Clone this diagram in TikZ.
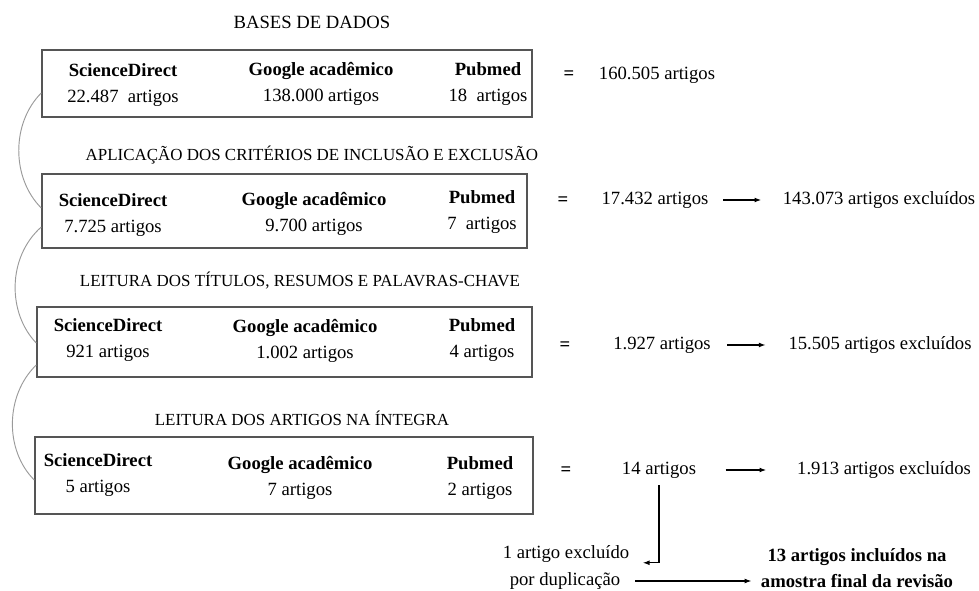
\documentclass[tikz,border=0pt]{standalone}
\usepackage{fontspec}
\setmainfont{Liberation Serif}
\usetikzlibrary{calc,arrows.meta}
\definecolor{boxgray}{HTML}{555555}
\definecolor{curvegray}{HTML}{9A9A9A}
\begin{document}
\begin{tikzpicture}[x=0.75pt,y=-0.75pt,
  body/.style={inner sep=0pt,align=center,font=\fontsize{14}{19.5}\selectfont},
  head/.style={inner sep=0pt,font=\fontsize{12.7}{15}\selectfont},
  boxnode/.style={draw=boxgray,line width=1.1pt,inner sep=0pt},
  curve/.style={draw=curvegray,line width=0.7pt},
  arr/.style={-{Latex[length=5pt,width=3.6pt]},line width=0.8pt}
]
\useasboundingbox (0,0) rectangle (979,591);

% headings
\node[head,font=\fontsize{14}{16}\selectfont] (h1) at (312,22) {BASES DE DADOS};
\node[head] (h2) at (312,155) {APLICAÇÃO DOS CRITÉRIOS DE INCLUSÃO E EXCLUSÃO};
\node[head] (h3) at (300,281) {LEITURA DOS TÍTULOS, RESUMOS E PALAVRAS-CHAVE};
\node[head] (h4) at (302,418) {LEITURA DOS ARTIGOS NA ÍNTEGRA};

% boxes
\node[boxnode,minimum width=367.5pt,minimum height=50.25pt] (b1) at (287,83.5) {};
\node[boxnode,minimum width=363.75pt,minimum height=55.5pt] (b2) at (284.5,211) {};
\node[boxnode,minimum width=371.25pt,minimum height=52.5pt] (b3) at (284.5,342) {};
\node[boxnode,minimum width=373.5pt,minimum height=57.75pt] (b4) at (284,475.5) {};

% box contents
\node[body] (sd1) at (123,85) {\textbf{ScienceDirect}\\22.487~ artigos};
\node[body] (ga1) at (321,84) {\textbf{Google acadêmico}\\138.000 artigos};
\node[body] (pm1) at (488,84) {\textbf{Pubmed}\\18~ artigos};

\node[body] (sd2) at (113,215) {\textbf{ScienceDirect}\\7.725 artigos};
\node[body] (ga2) at (314,213.5) {\textbf{Google acadêmico}\\9.700 artigos};
\node[body] (pm2) at (482,212) {\textbf{Pubmed}\\7~ artigos};

\node[body] (sd3) at (108,340) {\textbf{ScienceDirect}\\921 artigos};
\node[body] (ga3) at (305,340.5) {\textbf{Google acadêmico}\\1.002 artigos};
\node[body] (pm3) at (482,340) {\textbf{Pubmed}\\4 artigos};

\node[body] (sd4) at (98,475.5) {\textbf{ScienceDirect}\\5 artigos};
\node[body] (ga4) at (300,478) {\textbf{Google acadêmico}\\7 artigos};
\node[body] (pm4) at (480,478) {\textbf{Pubmed}\\2 artigos};

% right side
\node[body] (eq1) at (569,75) {\textbf{=}};
\node[body] (t1) at (657,75) {160.505 artigos};

\node[body] (eq2) at (563,201) {\textbf{=}};
\node[body] (t2) at (655,200) {17.432 artigos};
\node[body] (e2) at (879,200) {143.073 artigos excluídos};

\node[body] (eq3) at (565,346) {\textbf{=}};
\node[body] (t3) at (662,345) {1.927 artigos};
\node[body] (e3) at (880,345) {15.505 artigos excluídos};

\node[body] (eq4) at (566,471) {\textbf{=}};
\node[body] (t4) at (659,470) {14 artigos};
\node[body] (e4) at (884,470) {1.913 artigos excluídos};

\node[body] (dupA) at (566,554) {1 artigo excluído};
\node[body] (dupB) at (565,581) {por duplicação};
\node[body] (finA) at (857,557) {\textbf{13 artigos incluídos na}};
\node[body] (finB) at (857,581) {\textbf{amostra final da revisão}};

% arrows
\draw[arr,shorten <=11pt,shorten >=16pt] (t2) -- (e2);
\draw[arr,shorten <=12pt,shorten >=17pt] (t3) -- (e3);
\draw[arr,shorten <=22pt,shorten >=23pt] (t4) -- (e4);
\draw[arr,shorten <=5pt,shorten >=10pt] (t4.south) |- (dupA.south east);
\draw[arr,shorten <=11pt,shorten >=7pt] (dupB) -- (finB);

% connecting curves on the left
\draw[curve] ($(b1.west)+(0,9.5)$) .. controls +(-30,30) and +(-30,-30) .. ($(b2.west)+(0,-3)$);
\draw[curve] ($(b2.west)+(0,16)$) .. controls +(-34,30) and +(-29,-30) .. ($(b3.west)+(0,1)$);
\draw[curve] ($(b3.west)+(0,23)$) .. controls +(-31,30) and +(-30,-30) .. ($(b4.west)+(0,4.5)$);
\end{tikzpicture}
\end{document}
